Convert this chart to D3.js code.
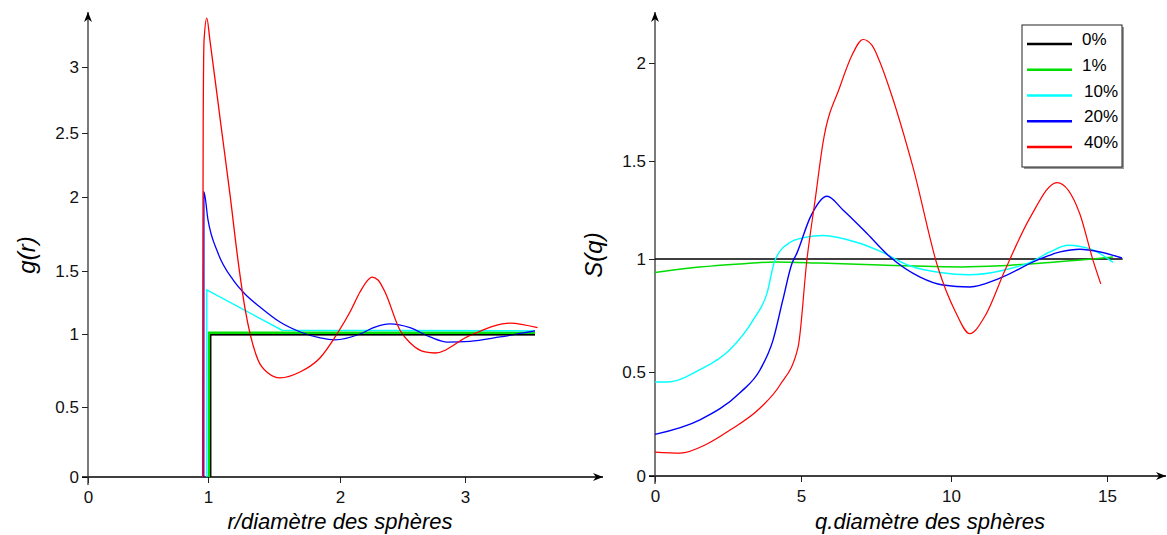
<!DOCTYPE html>
<html>
<head>
<meta charset="utf-8">
<script src="https://d3js.org/d3.v7.min.js"></script>
<style>
body { margin: 0; background: white; }
text { font-family: "Liberation Sans", Arial, sans-serif; }
.curve { fill: none; }
</style>
</head>
<body>
<div id="dataviz"></div>
<script>

// tick values
const rTicks = [0, 1, 2, 3];
const gTicks = [0, 0.5, 1, 1.5, 2, 2.5, 3];
const qTicks = [0, 5, 10, 15];
const sTicks = [0, 0.5, 1, 1.5, 2];

const seriesNames = ["0%", "1%", "10%", "20%", "40%"];
const seriesColors = ["#000000", "#00dd00", "#00ffff", "#0000ff", "#ff0000"];

// g(r) : [r/diametre, g]
const g0 = [[1.02, 0], [1.02, 0.995], [3.56, 0.995]];
const g1 = [[1.01, 0], [1.01, 1.01], [3.56, 1.01]];
const g10 = [[0.99, 0], [0.99, 1.35], [1.56, 1.03], [3.56, 1.025]];
const g20 = [[0.965, 0], [0.966, 2.04], [1.0, 1.845], [1.076, 1.62], [1.19, 1.429], [1.28, 1.317],
  [1.394, 1.214], [1.545, 1.095], [1.70, 1.016], [1.85, 0.973], [1.96, 0.96], [2.16, 1.0],
  [2.28, 1.055], [2.40, 1.08], [2.56, 1.05], [2.72, 0.98], [2.86, 0.945], [3.04, 0.95],
  [3.28, 0.98], [3.56, 1.024]];
const g40 = [[0.955, 0], [0.957, 1.5], [0.96, 2.6], [0.967, 3.2], [0.99, 3.37], [1.015, 3.2],
  [1.098, 2.56], [1.167, 2.016], [1.227, 1.574], [1.28, 1.206], [1.379, 0.822], [1.455, 0.733],
  [1.545, 0.70], [1.697, 0.74], [1.848, 0.836], [1.977, 1.0], [2.08, 1.175], [2.16, 1.333],
  [2.216, 1.42], [2.256, 1.452], [2.304, 1.429], [2.36, 1.333], [2.48, 1.03], [2.56, 0.94],
  [2.68, 0.877], [2.76, 0.87], [3.04, 0.99], [3.36, 1.087], [3.58, 1.05]];

// S(q) : [q.diametre, S]
const s0 = [[0, 1], [15.5, 1]];
const s1 = [[0, 0.94], [1.2, 0.96], [2.91, 0.978], [4.11, 0.987], [5.63, 0.982], [7.63, 0.973],
  [10.38, 0.965], [11.57, 0.97], [13.17, 0.985], [14.55, 1.0], [15.19, 1.01]];
const s10 = [[0, 0.452], [0.41, 0.452], [1.54, 0.51], [2.57, 0.60], [3.36, 0.73], [3.84, 0.85],
  [4.11, 0.995], [4.62, 1.084], [5.13, 1.11], [5.73, 1.12], [6.87, 1.084], [7.63, 1.04],
  [8.63, 0.97], [9.63, 0.94], [10.6, 0.93], [11.57, 0.947], [12.53, 0.985], [13.17, 1.036],
  [13.75, 1.07], [14.55, 1.046], [15.19, 0.985]];
const s20 = [[0, 0.20], [1.54, 0.27], [2.91, 0.40], [3.6, 0.51], [4.04, 0.64], [4.38, 0.82],
  [4.69, 0.98], [4.86, 1.03], [5.3, 1.21], [5.87, 1.32], [6.4, 1.25], [7.2, 1.13], [7.97, 1.01],
  [8.97, 0.92], [9.73, 0.885], [10.6, 0.876], [11.57, 0.915], [12.76, 0.995], [13.5, 1.036],
  [14.13, 1.05], [14.78, 1.036], [15.48, 1.005]];
const s40 = [[0, 0.115], [0.86, 0.11], [1.78, 0.154], [2.57, 0.221], [3.6, 0.327], [4.28, 0.4375],
  [4.9, 0.61], [5.2, 1.0], [5.47, 1.30], [5.73, 1.59], [6.3, 1.88], [6.7, 2.04], [7.07, 2.12],
  [7.37, 2.09], [7.63, 2.005], [7.97, 1.86], [8.73, 1.47], [9.57, 0.96], [10.13, 0.77],
  [10.6, 0.67], [11.1, 0.75], [11.73, 0.95], [12.53, 1.21], [13.4, 1.39], [14.13, 1.23],
  [14.55, 0.995], [14.8, 0.89]];

var svg = d3.select("#dataviz")
  .append("svg")
  .attr("width", 1167)
  .attr("height", 535);

// arrow head for the axes
svg.append("defs").append("marker")
  .attr("id", "arrow")
  .attr("markerUnits", "userSpaceOnUse")
  .attr("markerWidth", 12).attr("markerHeight", 10)
  .attr("refX", 10).attr("refY", 4)
  .attr("orient", "auto")
  .append("path")
  .attr("d", "M0,0 L10,4 L0,8 L3,4 Z")
  .attr("fill", "black");

// the original figure is not quite regular, so the scales follow its ticks
var xL = d3.scaleLinear().domain(rTicks).range([88, 208, 340, 465]);
var yL = d3.scaleLinear().domain(gTicks).range([477, 407, 334, 271, 197, 133, 67]);
var xR = d3.scaleLinear().domain(qTicks).range([655, 801, 951, 1107]);
var yR = d3.scaleLinear().domain(sTicks).range([476, 372, 259, 161, 63]);

function drawAxes(x, y, xt, yt, xEnd, xLabel, yLabel, labelX) {
  var x0 = x(0), y0 = y(0);

  var ax = svg.append("g")
    .attr("transform", "translate(0," + y0 + ")")
    .call(d3.axisBottom(x).tickValues(xt).tickSize(6).tickPadding(8)
      .tickFormat(d3.format("~g")));
  var ay = svg.append("g")
    .attr("transform", "translate(" + x0 + ",0)")
    .call(d3.axisLeft(y).tickValues(yt).tickSize(6).tickPadding(3)
      .tickFormat(d3.format("~g")));
  [ax, ay].forEach(function(a) {
    a.select(".domain").remove();
    a.selectAll("text").style("font-size", "17px").attr("fill", "#111");
    a.selectAll("line").attr("stroke", "#222");
  });

  // axis lines with arrows
  svg.append("line")
    .attr("x1", x0 - 6).attr("y1", y0)
    .attr("x2", xEnd).attr("y2", y0)
    .attr("stroke", "black").attr("stroke-width", 1.3)
    .attr("marker-end", "url(#arrow)");
  svg.append("line")
    .attr("x1", x0).attr("y1", y0 + 8)
    .attr("x2", x0).attr("y2", 12)
    .attr("stroke", "#333").attr("stroke-width", 1.3)
    .attr("marker-end", "url(#arrow)");

  svg.append("text")
    .attr("x", labelX).attr("y", 529)
    .style("text-anchor", "middle")
    .style("font-size", "22px")
    .style("font-style", "italic")
    .text(xLabel);

  svg.append("text")
    .attr("transform", "translate(" + (x0 - 53) + ",255) rotate(-90)")
    .style("text-anchor", "middle")
    .style("font-size", "24px")
    .style("font-style", "italic")
    .text(yLabel);
}

drawAxes(xL, yL, rTicks, gTicks, 603, "r/diamètre des sphères", "g(r)", 340);
drawAxes(xR, yR, qTicks, sTicks, 1166, "q.diamètre des sphères", "S(q)", 930);

function drawCurves(x, y, sets, curves, widths) {
  sets.forEach(function(d, i) {
    var line = d3.line()
      .x(function(p) { return x(p[0]); })
      .y(function(p) { return y(p[1]); })
      .curve(curves[i]);
    svg.append("path")
      .datum(d)
      .attr("class", "curve")
      .attr("d", line)
      .attr("stroke", seriesColors[i])
      .attr("stroke-width", widths[i]);
  });
}

var lin = d3.curveLinear, mono = d3.curveMonotoneX;

// left plot : green is thick, thin black is redrawn on top of it
drawCurves(xL, yL, [g0, g1, g10, g20, g40], [lin, lin, lin, mono, mono], [1.3, 2.6, 1.4, 1.3, 1.3]);
svg.append("path").datum(g0).attr("class", "curve")
  .attr("d", d3.line().x(function(p) { return xL(p[0]); }).y(function(p) { return yL(p[1]); }))
  .attr("stroke", "black").attr("stroke-width", 1.2);

drawCurves(xR, yR, [s0, s1, s10, s20, s40], [lin, mono, mono, mono, mono], [1.3, 1.5, 1.4, 1.4, 1.2]);

// legend
var legend = svg.append("g").attr("transform", "translate(1022,25)");
legend.append("rect")
  .attr("x", 2).attr("y", 2).attr("width", 100).attr("height", 142)
  .attr("fill", "#999");
legend.append("rect")
  .attr("width", 100).attr("height", 142)
  .attr("fill", "white").attr("stroke", "#222").attr("stroke-width", 1);

var legendY = d3.scalePoint().domain(seriesNames).range([19, 122]);
seriesNames.forEach(function(n, i) {
  legend.append("line")
    .attr("x1", 5).attr("x2", 50)
    .attr("y1", legendY(n)).attr("y2", legendY(n))
    .attr("stroke", seriesColors[i]).attr("stroke-width", 2.6);
  legend.append("text")
    .attr("x", i < 2 ? 60 : 62).attr("y", legendY(n) + 1)
    .style("font-size", "17px")
    .text(n);
});

</script>
</body>
</html>
